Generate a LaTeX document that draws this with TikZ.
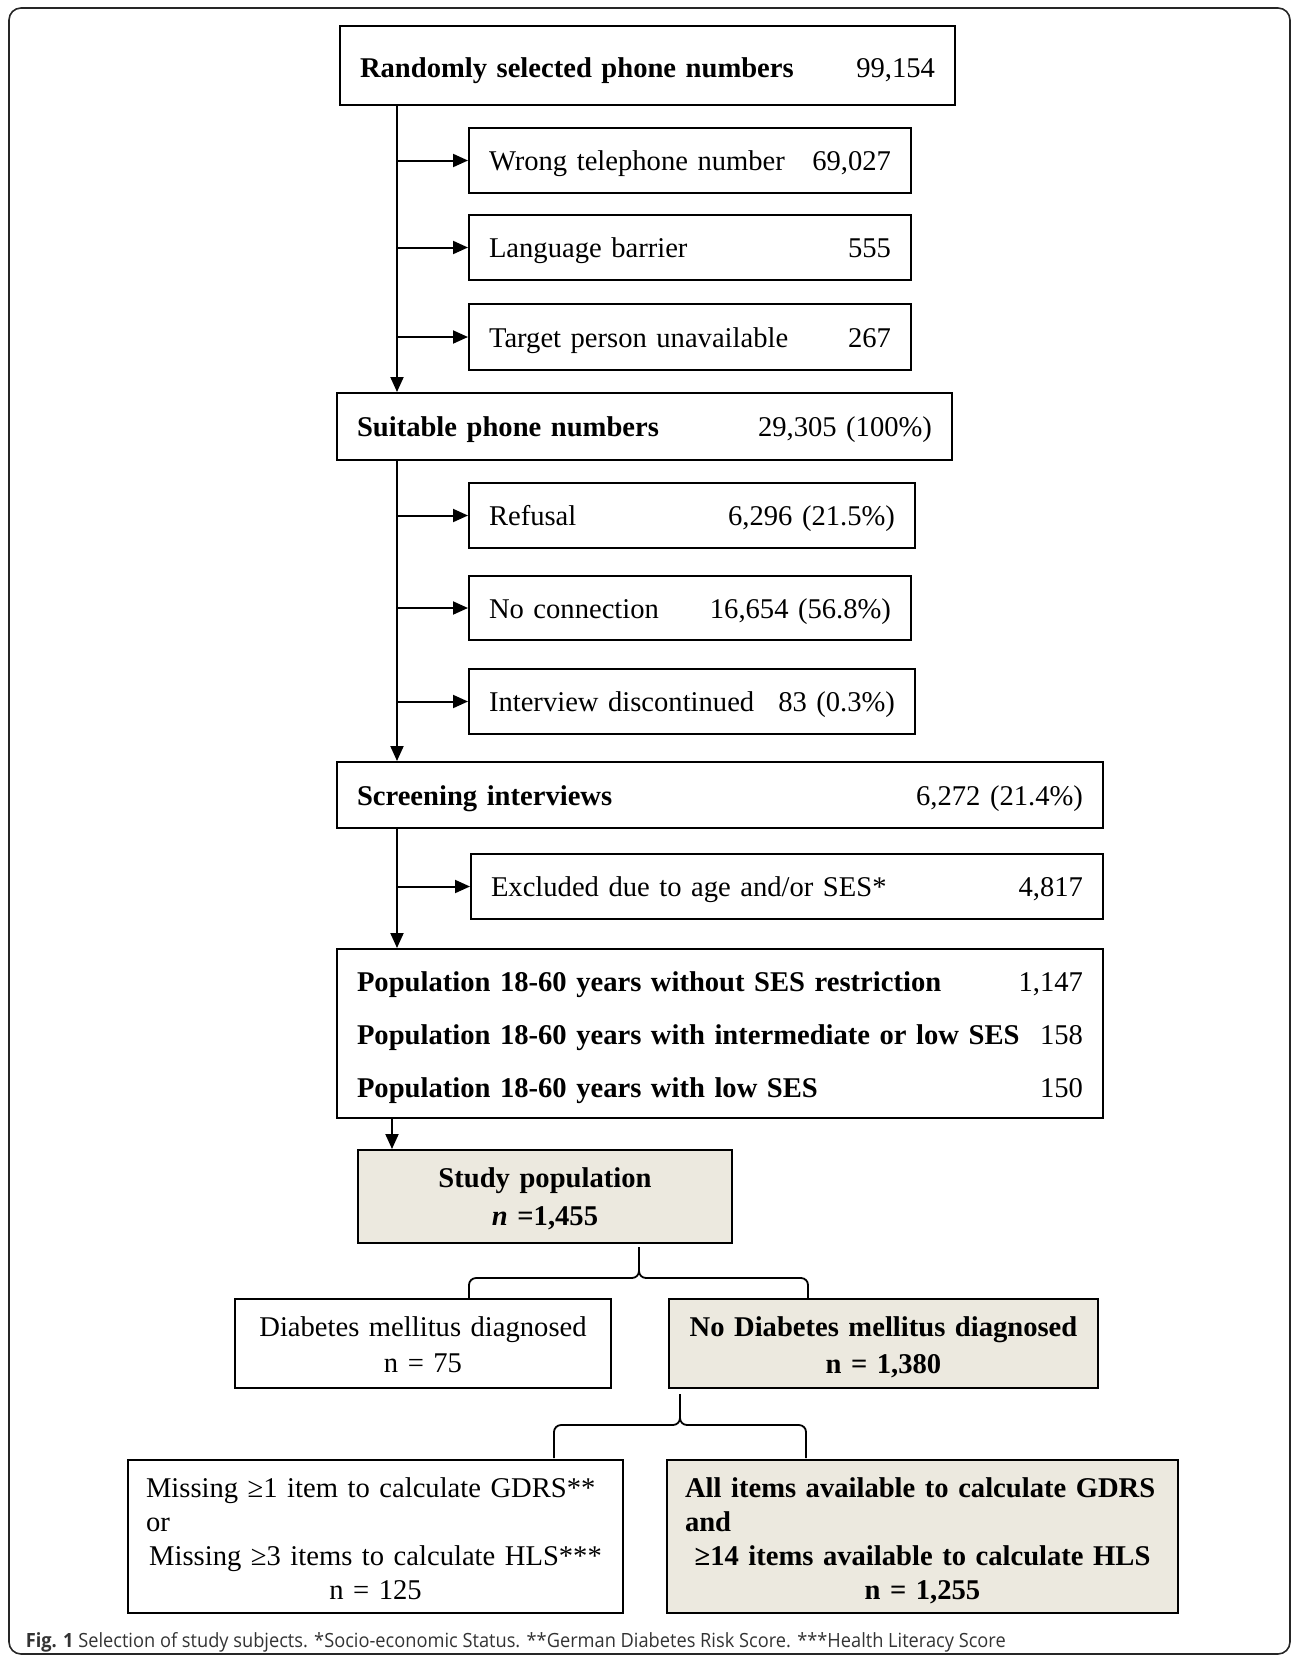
\documentclass[tikz,border=0pt]{standalone}
\usepackage{fontspec}
\setmainfont{Liberation Serif}
\newfontfamily\capfont[FakeStretch=0.93]{Open Sans}
\usetikzlibrary{positioning}
\usetikzlibrary{arrows.meta}
\definecolor{studyfill}{RGB}{236,233,223}

\begin{document}
\begin{tikzpicture}[
            x = 0.5pt, y = -0.5pt, % pixel grid of the figure
            > = {Triangle[length=7.5pt,width=6.5pt]}, % arrow head style
            shorten > = 0.5pt, % don't run into the box
            thick % line style
        ]

        \tikzstyle{phonebox}=[
            draw, rectangle, anchor = north west, align = left,
            outer sep = 0pt, inner xsep = 10pt, inner ysep = 0pt,
            text height = 10.3pt, text depth = 0pt,
            font = \fontsize{14.3}{17}\selectfont
        ]
        \tikzstyle{studybox}=[phonebox, align = center, inner xsep = 5pt, text height = 10pt]
        \tikzstyle{link}=[->, line width = 1pt]
        \tikzstyle{brace}=[rounded corners = 3.5pt, line width = 0.9pt]

        \useasboundingbox (0,0) rectangle (1293,1656);
        \draw[line width = 0.8pt, black!85, rounded corners = 6pt] (9,8) rectangle (1290,1654);

	% PHONE NUMBERS
        \node[phonebox, text width = 287.5pt, minimum height = 39.5pt, text height = 11.5pt] (rand) at (340,26)
            {\textbf{Randomly selected phone numbers}\hfill 99,154};
        \node[phonebox, text width = 201pt, minimum height = 32.5pt] (wrong) at (469,128)
            {Wrong telephone number\hfill 69,027};
        \node[phonebox, text width = 201pt, minimum height = 32.5pt] (lang) at (469,215)
            {Language barrier\hfill 555\hspace*{3.5pt}};
        \node[phonebox, text width = 201pt, minimum height = 33pt] (target) at (469,304)
            {Target person unavailable\hfill 267\hspace*{3pt}};

	% SUITABLE NUMBERS
        \node[phonebox, text width = 287.5pt, minimum height = 33.5pt] (suit) at (337,393)
            {\textbf{Suitable phone numbers}\hfill 29,305 (100\%)};
        \node[phonebox, text width = 203pt, minimum height = 32.5pt] (refus) at (469,483)
            {Refusal\hfill 6,296 (21.5\%)\hspace*{1.5pt}};
        \node[phonebox, text width = 201pt, minimum height = 32pt] (noconn) at (469,576)
            {No connection\hfill 16,654 (56.8\%)\hspace*{3pt}};
        \node[phonebox, text width = 203pt, minimum height = 32.5pt] (interv) at (469,669)
            {Interview discontinued\hfill 83 (0.3\%)};

	% SCREENING
        \node[phonebox, text width = 363pt, minimum height = 33pt] (screen) at (337,762)
            {\textbf{Screening interviews}\hfill 6,272 (21.4\%)};
        \node[phonebox, text width = 296pt, minimum height = 32.5pt] (excl) at (471,854)
            {Excluded due to age and/or SES*\hfill 4,817\hspace*{5.5pt}};
        \node[phonebox, text width = 363pt, minimum height = 84.5pt, text height = 10pt, text depth = 52.1pt] (popul) at (337,949)
            {\textbf{Population 18-60 years without SES restriction}\hfill 1,147\\[9.5pt]
             \textbf{Population 18-60 years with intermediate or low SES}\hfill 158\\[9.5pt]
             \textbf{Population 18-60 years with low SES}\hfill 150\hspace*{2pt}};

	% STUDY POPULATION
        \node[studybox, fill = studyfill, text width = 177pt, minimum height = 46.5pt, text depth = 19.1pt] (study) at (358,1150)
            {\textbf{Study population}\\[2pt] \textbf{\textit{n} =1,455}};
        \node[studybox, text width = 178pt, minimum height = 44.5pt, text depth = 16.8pt] (diab) at (235,1299)
            {Diabetes mellitus diagnosed\\[0.65pt] n = 75};
        \node[studybox, fill = studyfill, text width = 204.5pt, minimum height = 44.5pt, text depth = 17.5pt] (nodiab) at (669,1299)
            {\textbf{No Diabetes mellitus diagnosed}\\[1.5pt] \textbf{n = 1,380}};
        \node[phonebox, inner xsep = 9pt, text width = 229.5pt, minimum height = 76.5pt,
              text height = 10pt, text depth = 49.1pt] (miss) at (128,1460)
            {\makebox[\linewidth][l]{Missing ≥1 item to calculate GDRS**}\\ or\\
             \makebox[\linewidth]{Missing ≥3 items to calculate HLS***}\\
             \makebox[\linewidth]{n = 125}};
        \node[phonebox, fill = studyfill, inner xsep = 9pt, text width = 237.5pt, minimum height = 76.5pt,
              text height = 10pt, text depth = 49.1pt,
              font = \fontsize{14.3}{17}\selectfont\bfseries] (allit) at (667,1460)
            {\makebox[\linewidth][l]{All items available to calculate GDRS}\\ and\\
             \makebox[\linewidth]{≥14 items available to calculate HLS}\\
             \makebox[\linewidth]{n = 1,255}};

        \node[anchor = base west, inner sep = 0pt, text = black!80,
              font = \capfont\fontsize{9.8}{12}\selectfont] (cap) at (25,1647)
            {\textbf{Fig. 1} Selection of study subjects. *Socio-economic Status. **German Diabetes Risk Score. ***Health Literacy Score};

	% ARROWS
        \coordinate (T) at (397,0);
        \coordinate (T2) at (392,0);
        \draw[link] (rand.south -| T) -- (suit.north -| T);
        \draw[link] (wrong.west -| T) -- (wrong.west);
        \draw[link] (lang.west -| T) -- (lang.west);
        \draw[link] (target.west -| T) -- (target.west);

        \draw[link] (suit.south -| T) -- (screen.north -| T);
        \draw[link] (refus.west -| T) -- (refus.west);
        \draw[link] (noconn.west -| T) -- (noconn.west);
        \draw[link] (interv.west -| T) -- (interv.west);

        \draw[link] (screen.south -| T) -- (popul.north -| T);
        \draw[link] (excl.west -| T) -- (excl.west);

        \draw[link] (popul.south -| T2) -- (study.north -| T2);

	% BRACES
        \coordinate (B1) at (639,1246);
        \coordinate (B1L) at (469,1298);
        \coordinate (B1R) at (808,1298);
        \draw[brace] (B1L) -- ++(0,-20) -| (B1);
        \draw[brace] (B1R) -- ++(0,-20) -| (B1);

        \coordinate (B2) at (680,1393);
        \coordinate (B2L) at (554,1458);
        \coordinate (B2R) at (806,1458);
        \draw[brace] (B2L) -- ++(0,-33) -| (B2);
        \draw[brace] (B2R) -- ++(0,-33) -| (B2);

  \end{tikzpicture}
\end{document}
